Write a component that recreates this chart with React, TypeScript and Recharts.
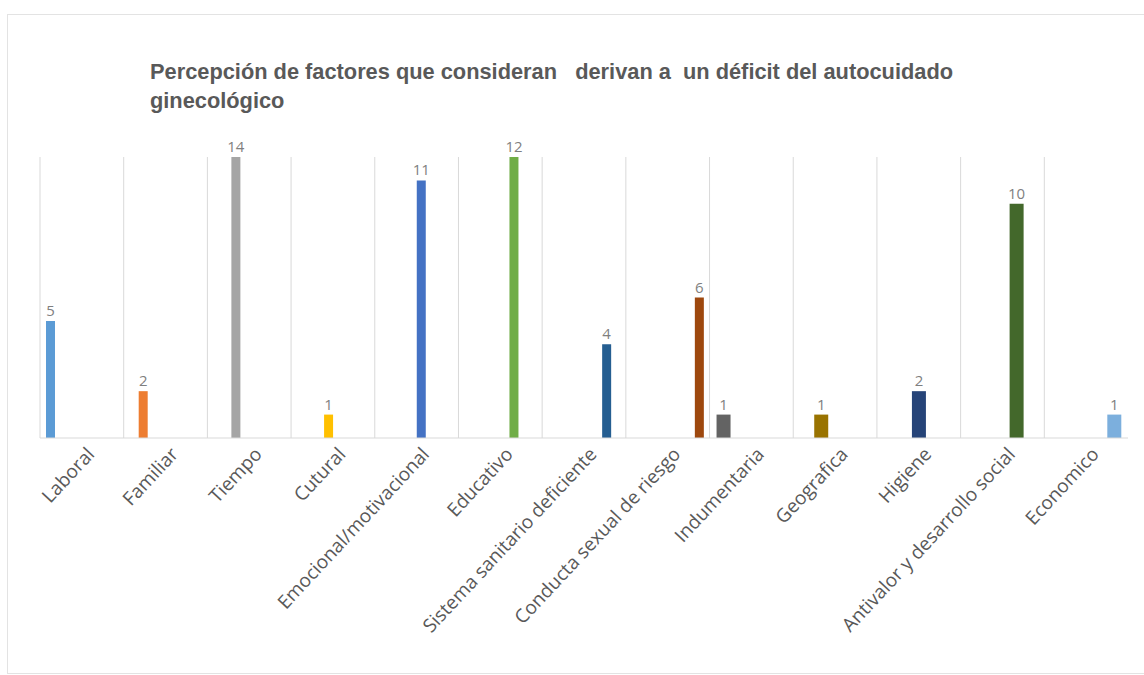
import { BarChart, Bar, XAxis, YAxis, CartesianGrid, LabelList } from "recharts";

const categories = [
  "Laboral",
  "Familiar",
  "Tiempo",
  "Cutural",
  "Emocional/motivacional",
  "Educativo",
  "Sistema sanitario deficiente",
  "Conducta sexual de riesgo",
  "Indumentaria",
  "Geografica",
  "Higiene",
  "Antivalor y desarrollo social",
  "Economico",
];

const values = [5, 2, 14, 1, 11, 12, 4, 6, 1, 1, 2, 10, 1];

const colors = [
  "#5B9BD5",
  "#ED7D31",
  "#A5A5A5",
  "#FFC000",
  "#4472C4",
  "#70AD47",
  "#255E91",
  "#9E480E",
  "#636363",
  "#997300",
  "#264478",
  "#43682B",
  "#7CAFDD",
];

// the source workbook clusters the first 8 series and the last 5 separately
const clusters = ["a", "a", "a", "a", "a", "a", "a", "a", "b", "b", "b", "b", "b"];

// value axis of the original stops at 12, so the 14 bar is cut at the top
const yMax = 12;

const titleLines = [
  "Percepción de factores que consideran   derivan a  un déficit del autocuidado",
  "ginecológico",
];

const data = categories.map((name, i) => {
  const row: Record<string, string | number> = { name };
  row["s" + i] = values[i];
  return row;
});

const clipped = (key: string) => (d: any) =>
  d[key] == null ? null : Math.min(d[key], yMax);

const AngledTick = (props: any) => {
  const { x, y, payload } = props;
  return (
    <g transform={`translate(${x + 5},${y + 1}) rotate(-47)`}>
      <text
        x={0}
        y={0}
        dy={12}
        textAnchor="end"
        fill="#595959"
        fontSize={19}
        fontFamily="Open Sans"
      >
        {payload.value}
      </text>
    </g>
  );
};

const gridLines = ({ offset }: any) =>
  categories.map((_, i) => offset.left + (i * offset.width) / categories.length);

const App = () => {
  return (
    <div
      style={{
        position: "fixed",
        inset: 0,
        overflow: "hidden",
        background: "#fff",
      }}
    >
      <div
        style={{
          position: "absolute",
          left: 7,
          top: 14,
          width: 1160,
          height: 658,
          border: "1px solid #e3e3e3",
        }}
      />
      <div
        style={{
          position: "absolute",
          left: 150,
          top: 57,
          fontFamily: "Liberation Sans",
          fontWeight: "bold",
          fontSize: 21.8,
          lineHeight: "29px",
          color: "#595959",
          whiteSpace: "pre",
        }}
      >
        {titleLines.map((t) => (
          <div key={t}>{t}</div>
        ))}
      </div>
      <div style={{ position: "absolute", left: 0, top: 0 }}>
        <BarChart
          width={1144}
          height={675}
          data={data}
          barGap={0}
          margin={{ top: 157, right: 16, left: 40, bottom: 37 }}
        >
          <CartesianGrid
            xAxisId="a"
            horizontal={false}
            stroke="#d9d9d9"
            verticalCoordinatesGenerator={gridLines}
          />
          <XAxis
            xAxisId="a"
            dataKey="name"
            interval={0}
            height={200}
            tickLine={false}
            axisLine={{ stroke: "#d9d9d9" }}
            tick={<AngledTick />}
          />
          <XAxis xAxisId="b" dataKey="name" hide height={200} />
          <YAxis hide domain={[0, yMax]} />
          {categories.map((c, i) => (
            <Bar
              key={c}
              dataKey={clipped("s" + i)}
              xAxisId={clusters[i]}
              fill={colors[i]}
              barSize={clusters[i] === "a" ? 9 : 14}
              isAnimationActive={false}
            >
              <LabelList
                dataKey={"s" + i}
                position="top"
                offset={5}
                fill="#7f7f7f"
                fontSize={15}
                fontFamily="Open Sans"
              />
            </Bar>
          ))}
        </BarChart>
      </div>
    </div>
  );
};

export default App;
